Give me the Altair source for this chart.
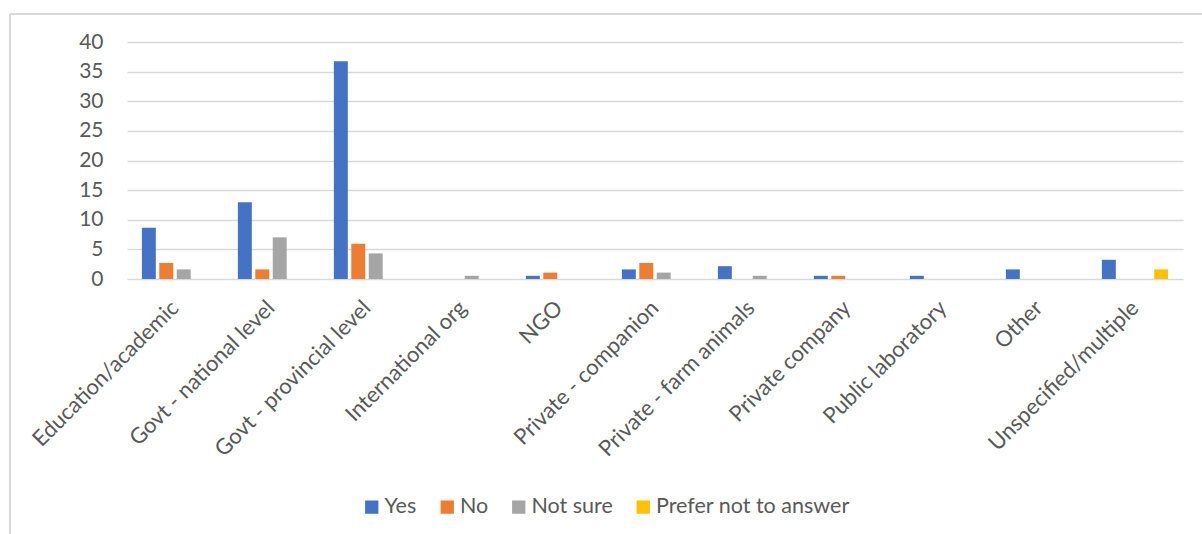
import altair as alt
import pandas as pd

# Survey responses by organisation type (% of respondents)
categories = [
    "Education/academic", "Govt - national level", "Govt - provincial level",
    "International org", "NGO", "Private - companion", "Private - farm animals",
    "Private company", "Public laboratory", "Other", "Unspecified/multiple",
]
responses = ["Yes", "No", "Not sure", "Prefer not to answer"]
colors = ["#4472C4", "#ED7D31", "#A5A5A5", "#FFC000"]

yes_vals = [8.65, 12.97, 36.76, 0, 0.54, 1.62, 2.16, 0.54, 0.54, 1.62, 3.24]
no_vals = [2.70, 1.62, 5.95, 0, 1.08, 2.70, 0, 0.54, 0, 0, 0]
notsure_vals = [1.62, 7.03, 4.32, 0.54, 0, 1.08, 0.54, 0, 0, 0, 0]
prefer_vals = [0, 0, 0, 0, 0, 0, 0, 0, 0, 0, 1.62]

rows = []
for resp, vals in zip(responses, [yes_vals, no_vals, notsure_vals, prefer_vals]):
    for cat, v in zip(categories, vals):
        if v > 0:
            rows.append({"category": cat, "response": resp, "value": v})
df = pd.DataFrame(rows)

FONT = "Lato"
GREY_TEXT = "#595959"
GRID = "#D9D9D9"

bars = alt.Chart(df).mark_bar().encode(
    x=alt.X(
        "category:N",
        sort=categories,
        scale=alt.Scale(domain=categories, paddingInner=0.31, paddingOuter=0.155),
        axis=alt.Axis(
            title=None, labelAngle=-45, labelAlign="right", labelBaseline="middle",
            labelFontSize=22, labelColor=GREY_TEXT, labelFont=FONT,
            ticks=False, domain=False, labelPadding=25, labelLimit=400,
        ),
    ),
    xOffset=alt.XOffset(
        "response:N", sort=responses,
        scale=alt.Scale(domain=responses, paddingInner=0.2),
    ),
    y=alt.Y(
        "value:Q",
        scale=alt.Scale(domain=[0, 40], nice=False),
        axis=alt.Axis(
            title=None, values=list(range(0, 41, 5)), grid=True, gridColor=GRID,
            gridWidth=1.5, domain=False, ticks=False, labelFontSize=21,
            labelColor=GREY_TEXT, labelFont=FONT, labelPadding=24,
        ),
    ),
    color=alt.Color(
        "response:N",
        sort=responses,
        scale=alt.Scale(domain=responses, range=colors),
        legend=alt.Legend(
            title=None, orient="none", direction="horizontal",
            legendX=234, legendY=454, symbolType="square", symbolSize=177,
            symbolStrokeWidth=0, labelFontSize=21.5, labelColor=GREY_TEXT,
            labelFont=FONT, columnPadding=19.5, labelOffset=2, labelLimit=400,
        ),
    ),
)

# Light chart-area frame along the top and left edges
frame_top = alt.Chart(df).mark_rule(color=GRID, strokeWidth=1.5).encode(
    x=alt.value(-117), x2=alt.value(1080), y=alt.value(-28)
)
frame_left = alt.Chart(df).mark_rule(color=GRID, strokeWidth=1.5).encode(
    x=alt.value(-117), y=alt.value(-28), y2=alt.value(500)
)

chart = alt.layer(frame_top, frame_left, bars).properties(
    width=1056, height=237,
    autosize=alt.AutoSizeParams(type="none"),
    padding={"left": 127, "top": 42, "right": 19, "bottom": 255},
    background="white",
).configure_view(stroke=None)

chart.save("out.html", embed_options={"renderer": "svg", "actions": False})
